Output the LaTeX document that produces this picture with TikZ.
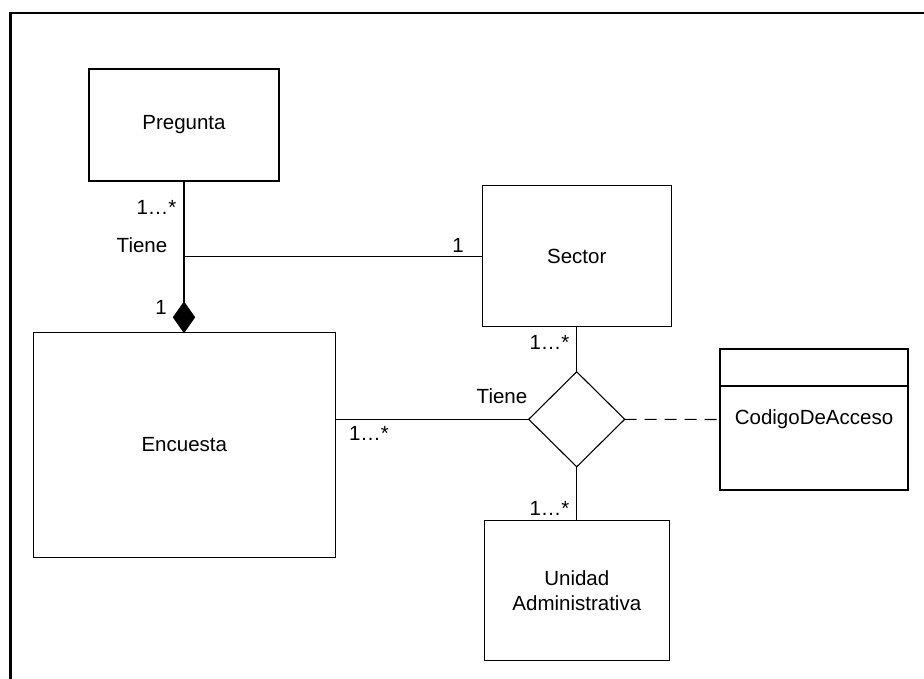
\documentclass[tikz,border=0pt]{standalone}
\usepackage{fontspec}
\setmainfont{Liberation Sans}
\usepackage{tikz}
\usetikzlibrary{shapes.geometric}

\begin{document}
\begin{tikzpicture}[x=1pt, y=-1pt, line width=1.1pt,
    font=\fontsize{20.5}{24.7}\selectfont,
    klass/.style={draw, rectangle, inner sep=0pt, outer sep=0pt, align=center},
    rel/.style={draw, diamond, inner sep=0pt, outer sep=0pt, minimum width=96pt, minimum height=95pt},
    comp/.style={draw, fill=black, diamond, inner sep=0pt, outer sep=0pt, minimum width=21pt, minimum height=30pt},
    mult/.style={inner sep=0pt}]
  \useasboundingbox (0,0) rectangle (924,679);
  % frame
  \draw[line width=2.2pt] (10.5,700) -- (10.5,13) -- (940,13);
  % classes
  \node[klass, minimum width=190pt, minimum height=112pt] (preg) at (184,125) {Pregunta};
  \node[klass, minimum width=302pt, minimum height=225pt] (enc) at (184.3,444.8) {Encuesta};
  \node[klass, minimum width=189pt, minimum height=141pt] (sect) at (576.7,256.4) {Sector};
  \node[klass, minimum width=188pt, minimum height=141pt] (cod) at (814,419.5) {CodigoDeAcceso};
  \node[klass, minimum width=185pt, minimum height=140pt] (unid) at (576.8,590.7) {Unidad\\Administrativa};
  \coordinate (codsep) at ([yshift=-37pt]cod.north west);
  \draw (codsep) -- (codsep -| cod.east);
  % association diamonds
  \node[rel] (tiene) at (576.7,419.3) {};
  \node[comp, anchor=south] (compo) at (enc.north -| preg.south) {};
  % connectors
  \coordinate (junc) at (preg.south |- sect.west);
  \draw (preg.south) -- (compo.north);
  \draw (junc) -- (sect.west);
  \draw (sect.south -| tiene.north) -- (tiene.north);
  \draw (enc.east |- tiene.west) -- (tiene.west);
  \draw (tiene.south) -- (unid.north -| tiene.south);
  \draw[dash pattern=on 12pt off 8pt] (tiene.east) -- (cod.west);
  % multiplicities and roles
  \node[mult, anchor=east] (m1) at (177,207) {1…*};
  \node[mult] (t1) at (142,245) {Tiene};
  \node[mult] (m2) at (161,307) {1};
  \node[mult] (m3) at (458,245) {1};
  \node[mult] (t2) at (502,396) {Tiene};
  \node[mult, anchor=east] (m4) at (570,342) {1…*};
  \node[mult, anchor=east] (m5) at (570,508) {1…*};
  \node[mult] (m6) at (369,433) {1…*};
\end{tikzpicture}
\end{document}
